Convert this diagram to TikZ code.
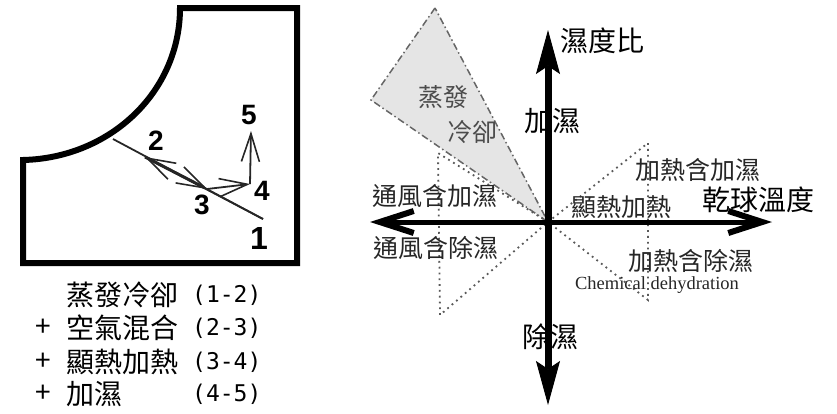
\documentclass[tikz,border=0pt]{standalone}
\usepackage{fontspec}
\newfontfamily\cjk{Noto Sans CJK TC}
\newfontfamily\digf{Liberation Sans}
\newfontfamily\monof{DejaVu Sans Mono}
\newfontfamily\serf{Liberation Serif}
\usetikzlibrary{arrows.meta}
\begin{document}
\begin{tikzpicture}[x=1pt,y=-1pt,
  frame/.style={line width=6pt, line join=miter},
  procline/.style={line width=1.8pt, draw=black!85},
  proc/.style={procline, -{Straight Barb[length=28pt,width=18pt,line width=1.6pt]}},
  num/.style={font=\digf\bfseries\fontsize{28}{28}\selectfont, inner sep=0},
  leg/.style={font=\cjk\fontsize{28}{28}\selectfont, anchor=west, inner sep=0},
  legnum/.style={font=\monof\fontsize{23}{23}\selectfont, anchor=west, inner sep=0},
  lab/.style={font=\cjk\fontsize{25}{25}\selectfont, inner sep=0, text=black!85},
  biglab/.style={font=\cjk\fontsize{28}{28}\selectfont, inner sep=0},
  vaxis/.style={line width=7pt, -{Stealth[length=44pt,width=24pt,inset=8pt,line width=1pt]}},
  haxis/.style={line width=5pt, -{Straight Barb[length=34pt,width=22pt,line width=6pt]}},
  dotl/.style={draw=black!65, line width=1.8pt, dash pattern=on 1.8pt off 4pt},
  dashdot/.style={draw=black!60, line width=1.5pt, dash pattern=on 7pt off 3pt on 1.5pt off 3pt}
]
\useasboundingbox (0,0) rectangle (837,413);

% ---------- left panel ----------
\coordinate (fa) at (23,160);
\coordinate (fb) at (23,263);
\coordinate (fc) at (297,263);
\coordinate (fd) at (297,8);
\coordinate (fe) at (180,8);
\draw[frame] (fa) .. controls (110,158) and (180,92) .. (fe) -- (fd) -- (fc) -- (fb) -- cycle;

\coordinate (pa) at (113,139);
\coordinate (p1) at (263,219);
\coordinate (p2) at (145,157);
\coordinate (p3) at (207,189);
\coordinate (p4) at (250,184);
\coordinate (p5) at (251,131);
\draw[procline] (pa) -- (p1);
\draw[proc] (p1) -- (p2);
\draw[proc, line width=3pt] (p2) -- (p3);
\draw[proc] (p3) -- (p4);
\draw[proc] (p4) -- (p5);

\node[num, font=\digf\bfseries\fontsize{32}{32}\selectfont] (n1) at (259,238) {1};
\node[num] (n2) at (156,141) {2};
\node[num] (n3) at (202,205) {3};
\node[num] (n4) at (262,191) {4};
\node[num] (n5) at (249,115) {5};

% legend
\node[leg] (g1) at (66,295) {蒸發冷卻};
\node[legnum] (g1n) at (192,295) {(1-2)};
\node[leg, anchor=center] (g2p) at (43,328) {+};
\node[leg] (g2) at (66,328) {空氣混合};
\node[legnum] (g2n) at (192,328) {(2-3)};
\node[leg, anchor=center] (g3p) at (43,362) {+};
\node[leg] (g3) at (66,362) {顯熱加熱};
\node[legnum] (g3n) at (192,362) {(3-4)};
\node[leg, anchor=center] (g4p) at (43,394) {+};
\node[leg] (g4) at (66,394) {加濕};
\node[legnum] (g4n) at (192,394) {(4-5)};

% ---------- right panel ----------
\coordinate (O) at (548,222);
\coordinate (vt) at (548,30);
\coordinate (vb) at (548,405);
\coordinate (hl) at (370,222);
\coordinate (hr) at (772,222);
\coordinate (tt) at (435,8);
\coordinate (tl) at (371,100);
\coordinate (ul1) at (438,153);
\coordinate (ll1) at (440,315);
\coordinate (ur1) at (648,143);
\coordinate (lr1) at (648,300);

\fill[black!10] (tt) -- (tl) -- (O) -- cycle;
\draw[dashdot] (tt) -- (tl) -- (O) -- cycle;
\draw[dotl] (O) -- (ul1) -- (ll1) -- cycle;
\draw[dotl] (O) -- (ur1) -- (lr1) -- cycle;

\draw[haxis] (O) -- (hr);
\draw[haxis] (O) -- (hl);
\draw[vaxis] (O) -- (vt);
\draw[vaxis] (O) -- (vb);

\node[biglab] (lratio) at (602,41) {濕度比};
\node[biglab] (lhum) at (552,121) {加濕};
\node[biglab] (ldehum) at (550,337) {除濕};
\node[biglab] (ldbt) at (758,200) {乾球溫度};
\node[lab] (lhh) at (698,170) {加熱含加濕};
\node[lab] (lsh) at (621,207) {顯熱加熱};
\node[lab] (lhd) at (691,261) {加熱含除濕};
\node[inner sep=0, font=\serf\fontsize{18.5}{18.5}\selectfont, text=black!85] (lchem) at (657,285) {Chemical dehydration};
\node[lab] (lvh) at (435,196) {通風含加濕};
\node[lab] (lvd) at (436,248) {通風含除濕};
\node[lab, text=black!70] (levap1) at (443,97) {蒸發};
\node[lab, text=black!70] (levap2) at (472,132) {冷卻};
\end{tikzpicture}
\end{document}
